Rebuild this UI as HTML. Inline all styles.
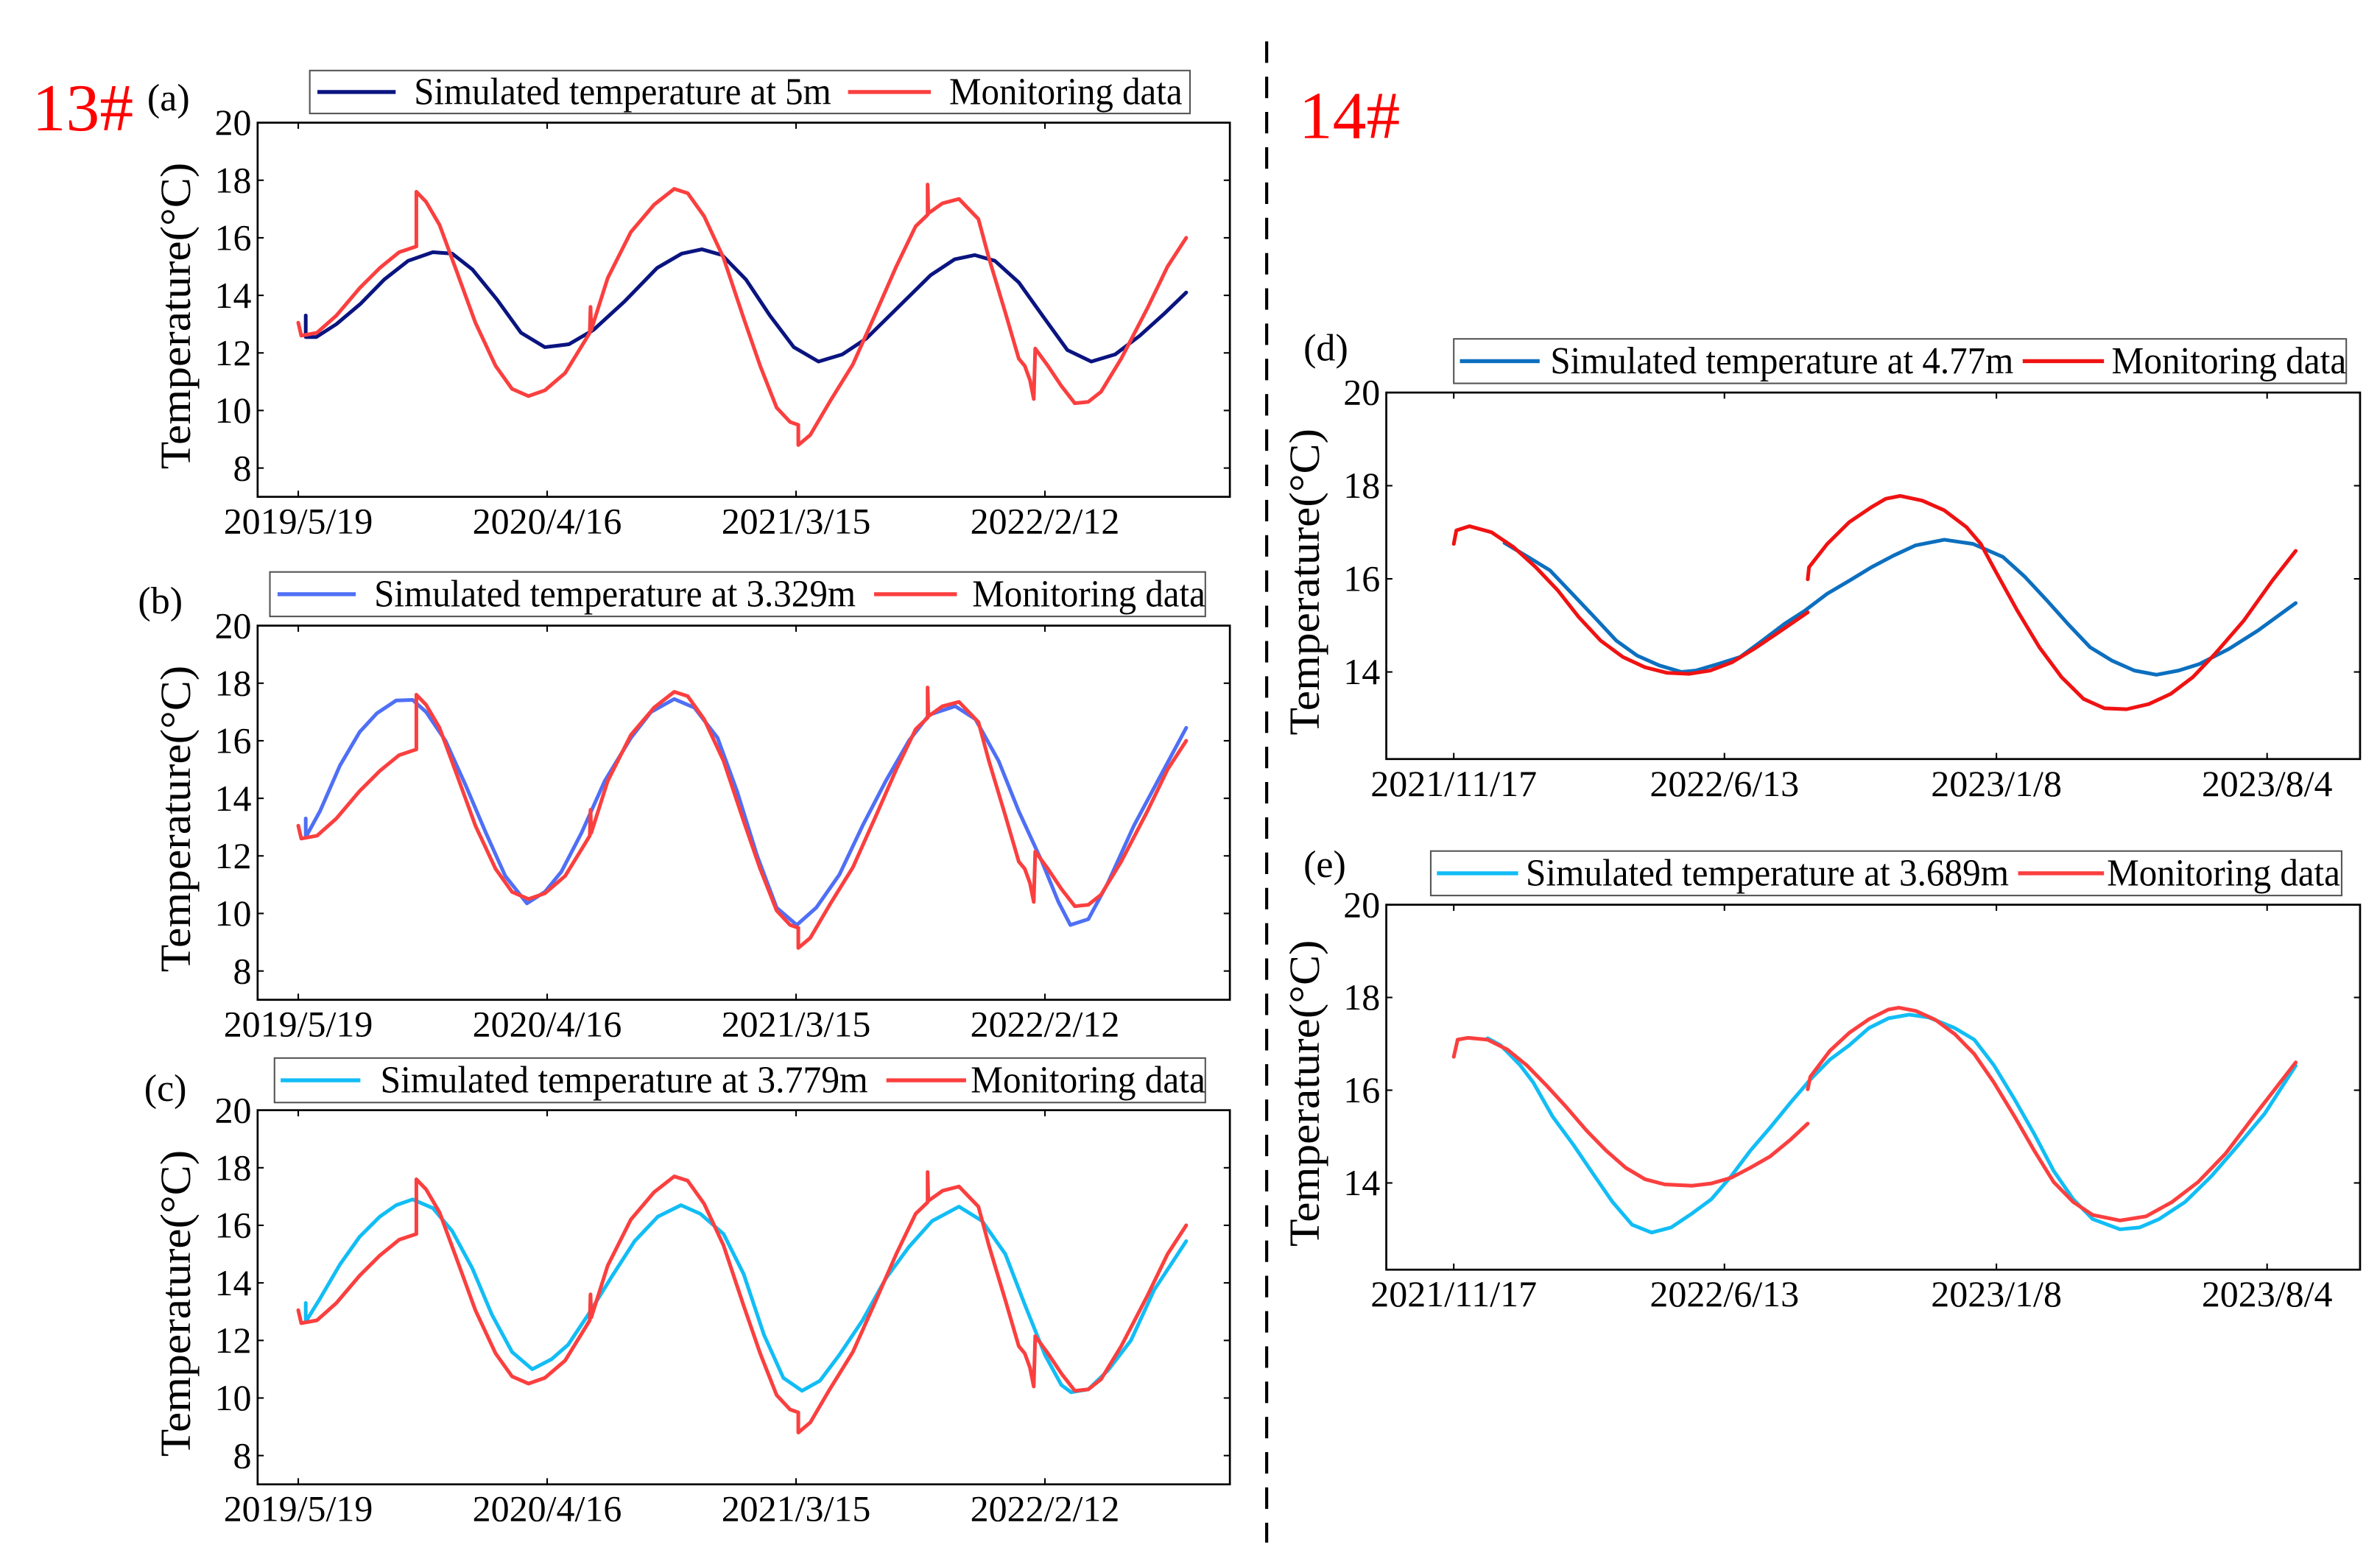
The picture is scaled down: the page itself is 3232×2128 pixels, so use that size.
<!DOCTYPE html>
<html><head><meta charset="utf-8"><style>
html,body{margin:0;padding:0;background:#fff;}
svg, svg text{font-family:"Liberation Serif","Times New Roman",serif;}
</style></head><body>
<svg id="fig" xmlns="http://www.w3.org/2000/svg" width="3232" height="2123" viewBox="0 0 1552 1019.5" preserveAspectRatio="none" font-family="Liberation Serif, serif">
<rect x="0" y="0" width="1552" height="1019.5" fill="#fff"/>
<text x="21" y="85" font-size="44" font-family="Liberation Serif, serif" fill="#ff0000">13#</text>
<text x="847" y="90" font-size="44" font-family="Liberation Serif, serif" fill="#ff0000">14#</text>
<line x1="826" y1="27" x2="826" y2="1006" stroke="#000" stroke-width="2" stroke-dasharray="14,9"/>
<g id="plots"></g>
</svg>
<script>
// ---------- 13# monitoring data (shared by a,b,c) ----------
const monDays13 = [0,4,25,51,82,109,135,158,158,171,189,211,237,264,286,308,330,357,383,390,391,392,414,445,476,503,521,543,569,596,618,640,658,669,669,685,711,742,773,800,826,842,842,843,862,884,910,924,946,964,972,979,984,986,1003,1021,1039,1057,1074,1101,1136,1163,1188];
const monTemp13 = [13.05,12.6,12.7,13.3,14.25,14.95,15.5,15.7,17.6,17.25,16.45,14.9,13.05,11.55,10.75,10.5,10.7,11.3,12.4,12.7,13.6,12.8,14.6,16.2,17.15,17.7,17.55,16.75,15.3,13.2,11.55,10.1,9.6,9.5,8.8,9.15,10.3,11.6,13.4,15.0,16.4,16.8,17.85,16.85,17.2,17.35,16.65,15.3,13.4,11.8,11.55,11.05,10.4,12.15,11.55,10.85,10.25,10.3,10.65,11.8,13.55,15.0,16.0];
// (a) simulated at 5m
const simDaysA = [10,10,24,51,83,115,147,180,206,233,266,298,330,362,395,437,480,513,540,567,599,631,663,696,728,760,803,846,878,905,932,964,997,1029,1061,1093,1126,1158,1188];
const simTempA = [13.3,12.55,12.55,13.0,13.7,14.55,15.2,15.5,15.45,14.9,13.85,12.7,12.2,12.3,12.8,13.8,14.95,15.45,15.6,15.4,14.55,13.3,12.2,11.7,11.95,12.5,13.6,14.7,15.25,15.4,15.2,14.45,13.25,12.1,11.7,11.95,12.6,13.35,14.1];
// (b) simulated at 3.329m
const simDaysB = [10,10,29,56,82,105,131,153,171,197,224,251,277,306,330,352,379,410,445,472,503,530,561,587,614,640,667,693,724,755,786,817,844,879,906,937,964,995,1017,1033,1057,1083,1118,1154,1188];
const simTempB = [13.3,12.65,13.55,15.15,16.3,16.95,17.4,17.42,17.0,16.0,14.45,12.8,11.3,10.35,10.75,11.45,12.8,14.6,16.1,17.0,17.45,17.15,16.1,14.25,12.0,10.2,9.6,10.2,11.35,13.05,14.6,16.0,16.9,17.2,16.75,15.3,13.55,11.8,10.4,9.6,9.8,11.05,13.05,14.8,16.45];
// (c) simulated at 3.779m
const simDaysC = [10,10,29,56,82,109,131,153,180,206,233,259,286,313,339,361,388,419,450,481,512,538,569,596,623,649,674,698,724,755,786,817,848,884,915,946,972,999,1021,1034,1057,1083,1114,1145,1188];
const simTempC = [13.3,12.65,13.45,14.65,15.6,16.3,16.7,16.9,16.6,15.8,14.5,12.9,11.6,11.0,11.35,11.85,12.9,14.2,15.45,16.3,16.7,16.4,15.7,14.3,12.2,10.7,10.25,10.6,11.5,12.7,14.15,15.25,16.15,16.65,16.15,15.0,13.25,11.5,10.45,10.2,10.3,10.95,12.0,13.75,15.45];
// (d) 14# at 4.77m
const simDaysD = [39,57,74,91,108,125,141,158,175,186,203,220,237,254,270,287,304,321,338,355,377,399,422,439,456,472,489,506,523,540,557,573,596,618,647];
const simTempD = [16.77,16.47,16.18,15.68,15.18,14.67,14.35,14.14,14.0,14.03,14.17,14.32,14.67,15.03,15.32,15.68,15.96,16.25,16.5,16.72,16.84,16.75,16.47,16.04,15.53,15.03,14.53,14.24,14.03,13.94,14.03,14.17,14.5,14.89,15.48];
const monDaysD = [0,2,12,29,46,63,80,96,113,130,147,164,181,197,214,231,248,272,null,272,273,287,304,321,332,343,360,377,394,405,416,433,450,467,484,500,517,534,551,568,585,607,629,647];
const monTempD = [16.75,17.04,17.13,17.0,16.68,16.25,15.75,15.18,14.67,14.32,14.1,13.98,13.96,14.03,14.21,14.5,14.82,15.28,null,15.99,16.25,16.75,17.22,17.54,17.72,17.78,17.68,17.47,17.11,16.75,16.18,15.32,14.53,13.89,13.42,13.22,13.2,13.31,13.53,13.89,14.39,15.1,15.96,16.6];
// (e) 14# at 3.689m
const simDaysE = [26,36,51,61,76,92,107,122,137,152,167,183,198,213,228,243,259,274,289,304,319,334,350,365,385,400,415,431,446,461,476,491,512,527,542,562,582,603,623,647];
const simTempE = [17.12,16.97,16.54,16.17,15.43,14.82,14.2,13.59,13.1,12.93,13.04,13.34,13.65,14.14,14.7,15.19,15.74,16.23,16.66,16.97,17.34,17.55,17.63,17.57,17.34,17.09,16.54,15.8,15.06,14.26,13.65,13.22,13.0,13.04,13.22,13.59,14.14,14.82,15.49,16.53];
const monDaysE = [0,3,11,26,41,56,71,87,102,117,132,147,162,183,198,213,228,243,259,272,null,272,274,289,304,319,334,342,355,370,385,400,415,431,446,461,476,491,512,532,552,572,593,613,647];
const monTempE = [16.72,17.09,17.13,17.09,16.88,16.54,16.11,15.62,15.13,14.7,14.33,14.08,13.97,13.94,13.99,14.11,14.33,14.57,14.94,15.28,null,16.02,16.29,16.85,17.24,17.53,17.74,17.78,17.71,17.52,17.21,16.78,16.17,15.43,14.7,14.02,13.59,13.31,13.19,13.28,13.59,14.02,14.63,15.37,16.6];
// ticks
const xTickDays13 = [0,333,666,999];
const xTickLabels13 = ["2019/5/19","2020/4/16","2021/3/15","2022/2/12"];
const yTicks13 = [8,10,12,14,16,18,20];
const xTickDays14 = [0,208,417,625];
const xTickLabels14 = ["2021/11/17","2022/6/13","2023/1/8","2023/8/4"];
const yTicks14 = [14,16,18,20];

const NS="http://www.w3.org/2000/svg";
const FONT="Liberation Serif, Times New Roman, serif";
const root=document.getElementById('plots');
function mk(tag,attrs,parent){const e=document.createElementNS(NS,tag);for(const k in attrs)e.setAttribute(k,attrs[k]);if(tag==='text')e.setAttribute('font-family',FONT);(parent||root).appendChild(e);return e;}

const panels=[
 {id:'a',L:168,R:802,T:80,B:324,x0:194.5,pxd:0.4874,ymin:7,ymax:20,xt:xTickDays13,xl:xTickLabels13,yt:yTicks13,
  series:[{d:simDaysA,t:simTempA,c:'#0a1480',n:'simulated-5m-line'},{d:monDays13,t:monTemp13,c:'#fb3f3f',n:'monitoring-line'}],
  leg:{x1:202,x2:776,y1:46,y2:74,l1:[207,258],t1:[270,272],l2:[553,607],t2:[619,152],s:'Simulated temperature at 5m',c1:'#0a1480',c2:'#fb3f3f'},lab:[96,72]},
 {id:'b',L:168,R:802,T:408,B:652,x0:194.5,pxd:0.4874,ymin:7,ymax:20,xt:xTickDays13,xl:xTickLabels13,yt:yTicks13,
  series:[{d:simDaysB,t:simTempB,c:'#4f6ff5',n:'simulated-3329m-line'},{d:monDays13,t:monTemp13,c:'#fb3f3f',n:'monitoring-line'}],
  leg:{x1:176,x2:786,y1:373,y2:402,l1:[181,232],t1:[244,314],l2:[570,624],t2:[634,152],s:'Simulated temperature at 3.329m',c1:'#4f6ff5',c2:'#fb3f3f'},lab:[90,400]},
 {id:'c',L:168,R:802,T:724,B:968,x0:194.5,pxd:0.4874,ymin:7,ymax:20,xt:xTickDays13,xl:xTickLabels13,yt:yTicks13,
  series:[{d:simDaysC,t:simTempC,c:'#12bdf5',n:'simulated-3779m-line'},{d:monDays13,t:monTemp13,c:'#fb3f3f',n:'monitoring-line'}],
  leg:{x1:179,x2:786,y1:690,y2:719,l1:[183,235],t1:[248,318],l2:[578,630],t2:[633,153],s:'Simulated temperature at 3.779m',c1:'#12bdf5',c2:'#fb3f3f'},lab:[94,718]},
 {id:'d',L:904,R:1539,T:256,B:495,x0:948,pxd:0.8486,ymin:12.13,ymax:20,xt:xTickDays14,xl:xTickLabels14,yt:yTicks14,
  series:[{d:simDaysD,t:simTempD,c:'#0c6fbf',n:'simulated-477m-line'},{d:monDaysD,t:monTempD,c:'#f01212',n:'monitoring-line'}],
  leg:{x1:948,x2:1530,y1:221,y2:250,l1:[952,1004],t1:[1011,302],l2:[1319,1372],t2:[1377,153],s:'Simulated temperature at 4.77m',c1:'#0c6fbf',c2:'#f01212'},lab:[850,235]},
 {id:'e',L:904,R:1539,T:590,B:828,x0:948,pxd:0.8486,ymin:12.13,ymax:20,xt:xTickDays14,xl:xTickLabels14,yt:yTicks14,
  series:[{d:simDaysE,t:simTempE,c:'#12bdf5',n:'simulated-3689m-line'},{d:monDaysE,t:monTempE,c:'#fb3f3f',n:'monitoring-line'}],
  leg:{x1:933,x2:1527,y1:555,y2:584,l1:[937,990],t1:[995,315],l2:[1316,1372],t2:[1374,152],s:'Simulated temperature at 3.689m',c1:'#12bdf5',c2:'#fb3f3f'},lab:[850,572]}
];

panels.forEach(p=>{
 const g=mk('g',{});
 
 
 const X=d=>p.x0+d*p.pxd;
 const Y=t=>p.B-(t-p.ymin)/(p.ymax-p.ymin)*(p.B-p.T);
 const lab=mk('text',{x:p.lab[0],y:p.lab[1],'font-size':25,fill:'#000'},g);
 lab.textContent='('+p.id+')';
 
 
 p.series.forEach(s=>{
  let dstr='',pen=false;
  for(let i=0;i<s.d.length;i++){
   if(s.d[i]===null){pen=false;continue;}
   dstr+=(pen?'L':'M')+X(s.d[i]).toFixed(2)+' '+Y(s.t[i]).toFixed(2)+' ';pen=true;
  }
  const path=mk('path',{d:dstr,fill:'none',stroke:s.c,'stroke-width':2.4,'stroke-linejoin':'round','stroke-linecap':'round'},g);
  
  
 });
 const box=mk('rect',{x:p.L,y:p.T,width:p.R-p.L,height:p.B-p.T,fill:'none',stroke:'#000','stroke-width':1.3},g);
 
 
 p.xt.forEach((d,i)=>{
  const x=X(d);
  mk('line',{x1:x,y1:p.B,x2:x,y2:p.B-4,stroke:'#000','stroke-width':1},g);
  mk('line',{x1:x,y1:p.T,x2:x,y2:p.T+4,stroke:'#000','stroke-width':1},g);
  const t=mk('text',{x:x,y:p.B+24,'font-size':24,'text-anchor':'middle',fill:'#000'},g);
  t.textContent=p.xl[i];
  
  
 });
 p.yt.forEach(v=>{
  const y=Y(v);
  mk('line',{x1:p.L,y1:y,x2:p.L+4,y2:y,stroke:'#000','stroke-width':1},g);
  mk('line',{x1:p.R,y1:y,x2:p.R-4,y2:y,stroke:'#000','stroke-width':1},g);
  const t=mk('text',{x:p.L-4,y:y+8,'font-size':24,'text-anchor':'end',fill:'#000'},g);
  t.textContent=String(v);
  
  
 });
 const cy=(p.T+p.B)/2+4, cx=p.L-44;
 const yt=mk('text',{x:cx,y:cy,'font-size':28,'text-anchor':'middle',fill:'#000',transform:`rotate(-90 ${cx} ${cy})`,textLength:200,lengthAdjust:'spacingAndGlyphs'},g);
 yt.textContent='Temperature(°C)';
 
 
 const L=p.leg, lg=mk('g',{},g);
 
 
 mk('rect',{x:L.x1,y:L.y1,width:L.x2-L.x1,height:L.y2-L.y1,fill:'#fff',stroke:'#555','stroke-width':1},lg);
 const ly=(L.y1+L.y2)/2, tb=ly+8;
 const s1=mk('line',{x1:L.l1[0],y1:ly,x2:L.l1[1],y2:ly,stroke:L.c1,'stroke-width':2.6},lg);
 
 
 const t1=mk('text',{x:L.t1[0],y:tb,'font-size':25,fill:'#000',textLength:L.t1[1],lengthAdjust:'spacingAndGlyphs'},lg);
 t1.textContent=L.s;
 
 
 const s2=mk('line',{x1:L.l2[0],y1:ly,x2:L.l2[1],y2:ly,stroke:L.c2,'stroke-width':2.6},lg);
 
 
 const t2=mk('text',{x:L.t2[0],y:tb,'font-size':25,fill:'#000',textLength:L.t2[1],lengthAdjust:'spacingAndGlyphs'},lg);
 t2.textContent='Monitoring data';
 
 
});
</script>
</body></html>
